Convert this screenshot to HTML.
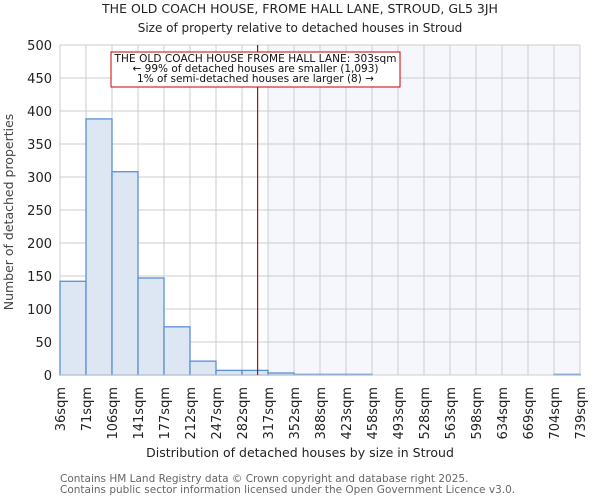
<!DOCTYPE html>
<html><head><meta charset="utf-8"><style>
body{margin:0;background:#fff;font-family:"DejaVu Sans","Liberation Sans",sans-serif}
</style></head><body>
<svg id="c" width="600" height="500" xmlns="http://www.w3.org/2000/svg" font-family="DejaVu Sans, Liberation Sans, sans-serif">
<text x="300" y="13" text-anchor="middle" font-size="12.5" fill="#222">THE OLD COACH HOUSE, FROME HALL LANE, STROUD, GL5 3JH</text>
<text x="300" y="32" text-anchor="middle" font-size="12" fill="#222">Size of property relative to detached houses in Stroud</text>
<g id="plot"></g>
<text x="300" y="457" text-anchor="middle" font-size="12.5" fill="#222">Distribution of detached houses by size in Stroud</text>
<text transform="translate(13,212) rotate(-90)" text-anchor="middle" font-size="12.5" fill="#444">Number of detached properties</text>
<text x="60" y="482" font-size="10.5" fill="#666">Contains HM Land Registry data © Crown copyright and database right 2025.</text>
<text x="60" y="493" font-size="10.5" fill="#666">Contains public sector information licensed under the Open Government Licence v3.0.</text>
</svg>
<script>
const binLabels=["36sqm","71sqm","106sqm","141sqm","177sqm","212sqm","247sqm","282sqm","317sqm","352sqm","388sqm","423sqm","458sqm","493sqm","528sqm","563sqm","598sqm","634sqm","669sqm","704sqm","739sqm"];
const binEdges=[36,71,106,141,177,212,247,282,317,352,388,423,458,493,528,563,598,634,669,704,739];
const counts=[142,388,308,147,73,21,7,7,3,1,1,1,0,0,0,0,0,0,0,1];
const yTicks=[0,50,100,150,200,250,300,350,400,450,500];
const marker=303;
const L=60,R=580,T=45,B=375,NS="http://www.w3.org/2000/svg";
const nb=counts.length,bw=(R-L)/nb;
const xi=i=>L+i*bw;
const xv=v=>{for(let i=0;i<binEdges.length-1;i++){if(v<=binEdges[i+1])return xi(i)+(v-binEdges[i])/(binEdges[i+1]-binEdges[i])*bw;}return R;};
const y=v=>B-(v/500)*(B-T);
const g=document.getElementById('plot');
function mk(t,a){const e=document.createElementNS(NS,t);for(const k in a)e.setAttribute(k,a[k]);g.appendChild(e);return e;}
let mi=0;for(let i=0;i<nb;i++)if(binEdges[i]<=marker)mi=i;
let sh=mk('rect',{x:xi(mi+1),y:T,width:R-xi(mi+1),height:B-T,fill:'#f5f7fd'});


yTicks.forEach(t=>{let l=mk('line',{x1:L,x2:R,y1:y(t),y2:y(t),stroke:'#ccc'});


let tx=mk('text',{x:L-8,y:y(t)+5,'text-anchor':'end','font-size':'13',fill:'#222'});tx.textContent=t;

});
binLabels.forEach((s,i)=>{let l=mk('line',{x1:xi(i),x2:xi(i),y1:T,y2:B,stroke:'#ccc'});


let tx=mk('text',{transform:`translate(${xi(i)+5},${B+12}) rotate(-90)`,'text-anchor':'end','font-size':'13',fill:'#222'});tx.textContent=s;

});
counts.forEach((c,i)=>{if(c<=0)return;let r=mk('rect',{x:xi(i),y:y(c),width:bw,height:B-y(c),fill:'#dde7f4',stroke:'#5a8fd6','stroke-width':1.3});

});
let ax=mk('line',{x1:L,x2:R,y1:B,y2:B,stroke:'#ccc'});


const mx=xv(marker);
let ml=mk('line',{x1:mx,x2:mx,y1:T,y2:B,stroke:'#c00','stroke-width':1.2});


let bx=mk('rect',{x:111,y:52,width:289,height:35,fill:'#fff',stroke:'#c00','stroke-width':1});


["THE OLD COACH HOUSE FROME HALL LANE: 303sqm","← 99% of detached houses are smaller (1,093)","1% of semi-detached houses are larger (8) →"].forEach((s,i)=>{let t=mk('text',{x:255.5,y:62+i*10,'text-anchor':'middle','font-size':'10.5','textLength':i==0?282:0,fill:'#111'});if(i>0)t.removeAttribute('textLength');t.textContent=s;

});
</script>
</body></html>
